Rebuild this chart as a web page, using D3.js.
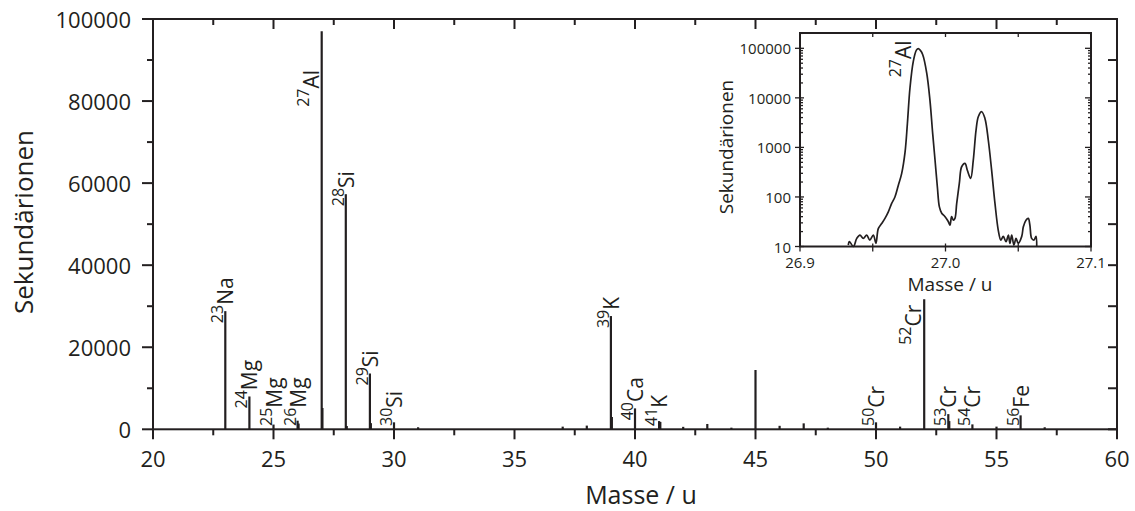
<!DOCTYPE html>
<html>
<head>
<meta charset="utf-8">
<script src="https://cdn.jsdelivr.net/npm/d3@7"></script>
<style>
  body { margin: 0; background: #fff; }
  svg { display: block; font-family: "Open Sans", sans-serif; }
</style>
</head>
<body>
<svg id="chart" width="1135" height="511"></svg>
<script>
// main spectrum: stick peaks (mass / u, counts)
var peakMass   = [23, 24, 25, 26, 26.04, 27, 27.03, 28, 28.04, 29, 29.04, 30, 31, 37, 38, 39, 39.04, 40, 41, 41.05, 42, 43, 44, 45, 46, 47, 48, 50, 51, 52, 53, 53.04, 54, 55, 56, 57];
var peakCounts = [28800, 8000, 1150, 2100, 1400, 97000, 5200, 57300, 800, 13600, 1500, 1700, 500, 650, 900, 27600, 3000, 5100, 2000, 1800, 600, 1300, 400, 14450, 850, 1450, 400, 1700, 650, 31700, 3700, 2000, 1200, 650, 3400, 500];

// peak labels
var labelMass    = [23, 24, 25, 26, 27, 28, 29, 30, 39, 40, 41, 50, 52, 53, 54, 56];
var labelElement = ["Na", "Mg", "Mg", "Mg", "Al", "Si", "Si", "Si", "K", "Ca", "K", "Cr", "Cr", "Cr", "Cr", "Fe"];

// tall peaks get their label beside the line, lower down (start level in counts)
var labelInside = { 27: 78600, 52: 20600 };

// inset: high-resolution scan around mass 27 (log counts)
var insetMass = [26.9332, 26.934, 26.9367, 26.939, 26.9412, 26.9435, 26.9458, 26.948, 26.9504, 26.9522,
  26.9538, 26.9561, 26.9584, 26.9607, 26.963, 26.9653, 26.9676, 26.9699, 26.9722, 26.9738,
  26.9756, 26.9779, 26.98, 26.9813, 26.9826, 26.9843, 26.9871, 26.9893, 26.9912, 26.9928,
  26.9944, 26.9958, 26.9974, 26.9997, 27.0019, 27.0031, 27.0042, 27.0054, 27.0065, 27.0077,
  27.0095, 27.0111, 27.0134, 27.015, 27.0173, 27.0191, 27.021, 27.0226, 27.0249, 27.0271,
  27.0294, 27.0317, 27.034, 27.0363, 27.038, 27.0397, 27.0416, 27.0432, 27.0443, 27.0455,
  27.047, 27.0485, 27.05, 27.0524, 27.0535, 27.0553, 27.0569, 27.058, 27.0592, 27.0608,
  27.0622, 27.0627];
var insetCounts = [10.7, 12.5, 10, 14.6, 17, 14.6, 17, 13.5, 17, 11.6,
  23, 29, 37, 50, 74, 101, 173, 299, 800, 3000,
  16000, 55000, 92000, 99000, 92000, 75000, 31700, 9000, 1900, 556,
  161, 63, 47, 40, 32, 27, 40, 34, 37, 74,
  187, 407, 475, 347, 237, 554, 2240, 4200, 5250, 3850,
  1410, 347, 74, 21, 13.5, 16, 12.5, 17, 11.6, 17,
  10.7, 14.6, 11.6, 16, 25, 34, 37, 27, 14.6, 13.5,
  16, 10];

var yTickValues = [0, 20000, 40000, 60000, 80000, 100000];
var xTickValues = [20, 25, 30, 35, 40, 45, 50, 55, 60];
var insetYTicks = [10, 100, 1000, 10000, 100000];
var insetXTicks = [26.9, 27.0, 27.1];

var ink = "#231f20";
var svg = d3.select("#chart");

var x = d3.scaleLinear().domain([20, 60]).range([153, 1117]);
var y = d3.scaleLinear().domain([0, 100000]).range([429.3, 19]);

// peaks
svg.append("g")
    .selectAll("line")
    .data(peakMass)
    .enter()
    .append("line")
    .attr("x1", function(d) { return x(d); })
    .attr("x2", function(d) { return x(d); })
    .attr("y1", y(0))
    .attr("y2", function(d, i) { return y(peakCounts[i]); })
    .attr("stroke", ink)
    .attr("stroke-width", 2.2);

// frame
svg.append("rect")
    .attr("x", x(20)).attr("y", y(100000))
    .attr("width", x(60) - x(20)).attr("height", y(0) - y(100000))
    .attr("fill", "none").attr("stroke", ink).attr("stroke-width", 2);

var ticks = svg.append("g").attr("stroke", ink).attr("stroke-width", 2);

// left outward (major 20000 / minor 10000), right inward
d3.range(0, 100001, 10000).forEach(function(v) {
  var len = v % 20000 === 0 ? 11 : 6;
  ticks.append("line").attr("x1", x(20) - len).attr("x2", x(20)).attr("y1", y(v)).attr("y2", y(v));
  ticks.append("line").attr("x1", x(60) - 9).attr("x2", x(60)).attr("y1", y(v)).attr("y2", y(v));
});
// bottom outward, top inward
d3.range(20, 60.01, 2.5).forEach(function(v) {
  var len = v % 5 === 0 ? 10 : 6;
  ticks.append("line").attr("x1", x(v)).attr("x2", x(v)).attr("y1", y(0)).attr("y2", y(0) + len);
  ticks.append("line").attr("x1", x(v)).attr("x2", x(v)).attr("y1", y(100000)).attr("y2", y(100000) + len);
});

svg.append("g")
    .selectAll("text")
    .data(yTickValues)
    .enter()
    .append("text")
    .attr("x", x(20) - 22)
    .attr("y", function(d) { return y(d); })
    .attr("text-anchor", "end")
    .attr("dominant-baseline", "central")
    .attr("font-size", "22px")
    .attr("fill", ink)
    .text(function(d) { return d; });

svg.append("g")
    .selectAll("text")
    .data(xTickValues)
    .enter()
    .append("text")
    .attr("x", function(d) { return x(d); })
    .attr("y", 467)
    .attr("text-anchor", "middle")
    .attr("font-size", "22px")
    .attr("fill", ink)
    .text(function(d) { return d; });

svg.append("text")
    .attr("x", 641).attr("y", 504)
    .attr("text-anchor", "middle")
    .attr("font-size", "25px")
    .attr("fill", ink)
    .text("Masse / u");

svg.append("text")
    .attr("transform", "translate(33,222) rotate(-90)")
    .attr("text-anchor", "middle")
    .attr("font-size", "26px")
    .attr("fill", ink)
    .text("Sekundärionen");

// peak labels, rotated, with superscript mass number
function drawLabel(g, m, el, px, py) {
  var t = g.append("text")
      .attr("transform", "translate(" + px + "," + py + ") rotate(-90)")
      .attr("fill", ink);
  t.append("tspan").attr("font-size", "16px").attr("dy", -10).text(m);
  t.append("tspan").attr("font-size", "21px").attr("dy", 10).text(el);
}

var labels = svg.append("g");
labelMass.forEach(function(m, i) {
  var top = peakCounts[peakMass.indexOf(m)];
  if (labelInside[m] !== undefined) {
    drawLabel(labels, m, labelElement[i], x(m) - 3, y(labelInside[m]));
  } else {
    drawLabel(labels, m, labelElement[i], x(m) + 8, Math.min(y(top) + 12, 426));
  }
});

// ---------- inset ----------
var ix = d3.scaleLinear().domain([26.9, 27.1]).range([800, 1091]);
var iy = d3.scaleLog().domain([10, 203700]).range([246.5, 33]);

var inset = svg.append("g");
inset.append("rect")
    .attr("x", ix(26.9)).attr("y", iy(203700))
    .attr("width", ix(27.1) - ix(26.9)).attr("height", iy(10) - iy(203700))
    .attr("fill", "#fff").attr("stroke", ink).attr("stroke-width", 2);

var it = inset.append("g").attr("stroke", ink).attr("stroke-width", 1.3);
for (var e = 1; e <= 5; e++) {
  for (var k = 1; k <= 9; k++) {
    var v = k * Math.pow(10, e);
    if (v > 203700) continue;
    if (k === 1) {
      it.append("line").attr("x1", ix(26.9) - 5).attr("x2", ix(26.9) + 4).attr("y1", iy(v)).attr("y2", iy(v));
      it.append("line").attr("x1", ix(27.1) - 6).attr("x2", ix(27.1)).attr("y1", iy(v)).attr("y2", iy(v));
    } else {
      it.append("line").attr("x1", ix(26.9)).attr("x2", ix(26.9) + 3).attr("y1", iy(v)).attr("y2", iy(v));
      it.append("line").attr("x1", ix(27.1) - 3).attr("x2", ix(27.1)).attr("y1", iy(v)).attr("y2", iy(v));
    }
  }
}
[26.9, 26.95, 27.0, 27.05, 27.1].forEach(function(v) {
  it.append("line").attr("x1", ix(v)).attr("x2", ix(v)).attr("y1", iy(10) - 3).attr("y2", iy(10) + 5);
  it.append("line").attr("x1", ix(v)).attr("x2", ix(v)).attr("y1", iy(203700)).attr("y2", iy(203700) + 4);
});

var insetLine = d3.line()
    .x(function(d, i) { return ix(insetMass[i]); })
    .y(function(d) { return iy(Math.max(10, d)); })
    .curve(d3.curveCatmullRom.alpha(0.5));

inset.append("path")
    .attr("d", insetLine(insetCounts))
    .attr("fill", "none")
    .attr("stroke", ink)
    .attr("stroke-width", 1.7)
    .attr("stroke-linejoin", "round");

inset.append("g")
    .selectAll("text")
    .data(insetYTicks)
    .enter()
    .append("text")
    .attr("x", ix(26.9) - 9)
    .attr("y", function(d) { return iy(d); })
    .attr("text-anchor", "end")
    .attr("dominant-baseline", "central")
    .attr("font-size", "15px")
    .attr("fill", ink)
    .text(function(d) { return d; });

inset.append("g")
    .selectAll("text")
    .data(insetXTicks)
    .enter()
    .append("text")
    .attr("x", function(d) { return ix(d); })
    .attr("y", 268)
    .attr("text-anchor", "middle")
    .attr("font-size", "15px")
    .attr("fill", ink)
    .text(function(d) { return d3.format(".1f")(d); });

inset.append("text")
    .attr("x", 950).attr("y", 291)
    .attr("text-anchor", "middle")
    .attr("font-size", "19px")
    .attr("fill", ink)
    .text("Masse / u");

inset.append("text")
    .attr("transform", "translate(733,147) rotate(-90)")
    .attr("text-anchor", "middle")
    .attr("font-size", "19px")
    .attr("fill", ink)
    .text("Sekundärionen");

drawLabel(inset, 27, "Al", ix(26.9813) - 7, iy(26000));
</script>
</body>
</html>
